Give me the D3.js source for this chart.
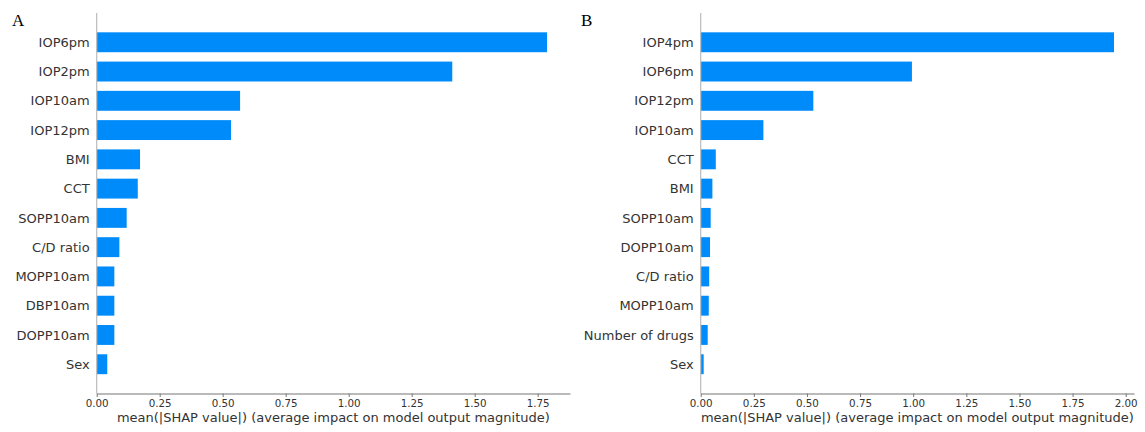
<!DOCTYPE html>
<html>
<head>
<meta charset="utf-8">
<script src="https://cdn.jsdelivr.net/npm/d3@7"></script>
<style>
  body { margin:0; background:#fff; }
  svg { display:block; }
</style>
</head>
<body>
<script>

// chart data
// ----------
var featuresA = ["IOP6pm","IOP2pm","IOP10am","IOP12pm","BMI","CCT","SOPP10am","C/D ratio","MOPP10am","DBP10am","DOPP10am","Sex"];
var valuesA   = [1.787, 1.411, 0.569, 0.533, 0.172, 0.163, 0.119, 0.090, 0.070, 0.070, 0.070, 0.042];
var ticksA    = [0, 0.25, 0.5, 0.75, 1.0, 1.25, 1.5, 1.75];

var featuresB = ["IOP4pm","IOP6pm","IOP12pm","IOP10am","CCT","BMI","SOPP10am","DOPP10am","C/D ratio","MOPP10am","Number of drugs","Sex"];
var valuesB   = [1.945, 0.994, 0.530, 0.295, 0.071, 0.055, 0.047, 0.044, 0.040, 0.038, 0.033, 0.014];
var ticksB    = [0, 0.25, 0.5, 0.75, 1.0, 1.25, 1.5, 1.75, 2.0];

var xTitle = "mean(|SHAP value|) (average impact on model output magnitude)";

var W = 1145, H = 432;
var svg = d3.select("body").append("svg").attr("width", W).attr("height", H);

// draw one shap style bar panel
// -----------------------------
function drawPanel(letter, letterX, features, values, ticks, x0, x1, xMax, axisY0, axisY1){

	var g = svg.append("g");

	var x = d3.scaleLinear().domain([0, xMax]).range([x0, x1]);
	// one extra row above and below, like matplotlib ylim(-1, n)
	var y = d3.scaleLinear().domain([-1, features.length]).range([axisY0, axisY1]);
	var rowH = y(1) - y(0);
	var barH = rowH * 0.68;

	g.selectAll("rect.bar")
		.data(values)
		.enter().append("rect")
		.attr("class","bar")
		.attr("x", x(0))
		.attr("y", function(d,i){ return y(i) - barH/2; })
		.attr("width", function(d){ return x(d) - x(0); })
		.attr("height", barH)
		.attr("style","fill:#008bfb;stroke:none;");

	// feature names
	g.selectAll("text.lab")
		.data(features)
		.enter().append("text")
		.attr("class","lab")
		.attr("x", x(0) - 7)
		.attr("y", function(d,i){ return y(i); })
		.attr("dy","0.36em")
		.attr("style","font-family:'DejaVu Sans';font-size:13px;text-anchor:end;fill:#333;")
		.text(function(d){ return d; });

	// left spine
	g.append("line")
		.attr("x1", x(0)).attr("x2", x(0))
		.attr("y1", axisY0).attr("y2", axisY1)
		.attr("style","stroke:#bbb;stroke-width:1.2;");

	// bottom axis
	var axis = d3.axisBottom(x).tickValues(ticks).tickFormat(d3.format(".2f")).tickSize(3.5).tickSizeOuter(0);
	var ga = g.append("g").attr("transform","translate(0,"+axisY1+")").call(axis);
	ga.select(".domain").attr("stroke","#777").attr("stroke-width",1.2);
	ga.selectAll(".tick line").attr("stroke","#777");
	ga.selectAll(".tick text")
		.attr("y", 6)
		.attr("dy","0.71em")
		.attr("style","font-family:'DejaVu Sans';font-size:10.3px;fill:#333;");

	g.append("text")
		.attr("x", (x0 + x1)/2)
		.attr("y", 422)
		.attr("style","font-family:'DejaVu Sans';font-size:13px;text-anchor:middle;fill:#333;")
		.text(xTitle);

	g.append("text")
		.attr("x", letterX)
		.attr("y", 26)
		.attr("style","font-family:'Liberation Serif','Times New Roman',serif;font-size:17px;fill:#000;")
		.text(letter);
}

drawPanel("A", 12,  featuresA, valuesA, ticksA, 96.7, 570, (570-96.7)/252, 13, 393.5);
drawPanel("B", 581, featuresB, valuesB, ticksB, 700.7, 1134, (1134-700.7)/212.5, 13, 393.5);

</script>
</body>
</html>
